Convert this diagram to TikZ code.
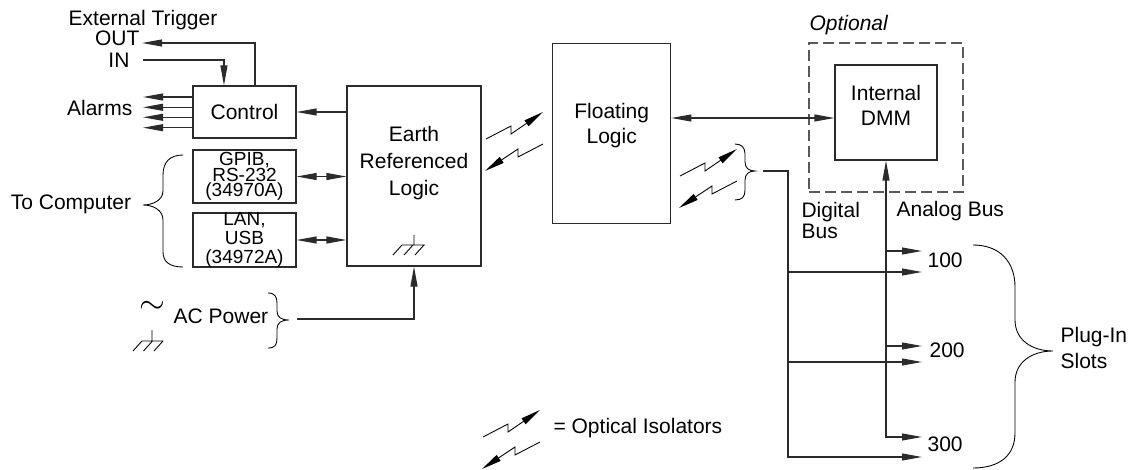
\documentclass[tikz,border=0pt]{standalone}
\usepackage{fontspec}
\setmainfont{Liberation Sans}
\usetikzlibrary{arrows.meta,positioning,calc}
\definecolor{Ink}{HTML}{2B2B2B}
\definecolor{DashGray}{HTML}{5A5A5A}
\setlength{\lineskiplimit}{-20pt}
\begin{document}
\begin{tikzpicture}[x=0.75pt,y=-0.75pt,line width=.85pt,
  >={Triangle[length=15pt,width=5.2pt]},
  box/.style={rectangle,draw=Ink,inner sep=0pt},
  lbl/.style={inner sep=0pt,align=center,font=\fontsize{15.75}{19}\selectfont},
  sml/.style={inner sep=0pt,align=center,font=\fontsize{14.25}{11.5}\selectfont},
  arr/.style={->,draw=Ink},
  dbl/.style={<->,draw=Ink},
  iso/.style={->,line width=.65pt},
  thinln/.style={line width=.65pt}]
  \useasboundingbox (0,0) rectangle (1134,470);
  % left side labels
  \node[lbl] (trig) at (143,20) {External Trigger};
  \node[lbl,anchor=east] (out) at (140,38) {OUT};
  \node[lbl,anchor=east] (in) at (130,60) {IN};
  \node[lbl,anchor=east,inner xsep=7.5pt] (alarms) at (143,108) {Alarms};
  \node[lbl] (tocomp) at (71,204) {To Computer};
  \node[lbl] (acpow) at (221,316) {AC Power};
  \node[inner sep=0pt,font=\fontsize{25}{25}\selectfont] (tilde) at (152,307) {$\sim$};
  % interface boxes
  \node[box,minimum width=77.25pt,minimum height=39pt] (ctrl) at (244.5,112) {};
  \node[lbl] (ctrltxt) at (ctrl) {Control};
  \node[box,minimum width=77.25pt,minimum height=39.75pt] (gpib) at (244.5,176.5) {};
  \node[sml] (gpibtxt) at (gpib) {GPIB,\\RS-232\\(34970A)};
  \node[box,minimum width=77.25pt,minimum height=40.5pt] (lan) at (244.5,240) {};
  \node[sml,font=\fontsize{14.25}{14.4}\selectfont] (lantxt) at (lan) {LAN,\\USB\\(34972A)};
  % logic boxes
  \node[box,minimum width=100.5pt,minimum height=135pt] (earth) at (414,176) {};
  \node[lbl,font=\fontsize{15.75}{20}\selectfont] (earthtxt) at ([yshift=9.75pt]earth.center) {Earth\\Referenced\\Logic};
  \node[box,minimum width=88.5pt,minimum height=135pt] (float) at (611.7,133.3) {};
  \node[lbl] (floattxt) at ([yshift=6pt]float.center) {Floating\\Logic};
  \node[draw=DashGray,dash pattern=on 8pt off 4pt,inner sep=0pt,
    minimum width=115.5pt,minimum height=111.75pt] (opt) at (886,117.5) {};
  \node[box,minimum width=76.5pt,minimum height=71.25pt] (dmm) at (886,112.5) {};
  \node[lbl] (dmmtxt) at ([yshift=5.25pt]dmm.center) {Internal\\DMM};
  \node[lbl,anchor=west,font=\fontsize{15.75}{19}\selectfont\itshape] (opttxt) at (809,25) {Optional};
  % bus labels and slots
  \node[lbl,anchor=west,align=left,font=\fontsize{15.75}{15.75}\selectfont] (digbus) at (801,220) {Digital\\Bus};
  \node[lbl,anchor=west] (anbus) at (896,211) {Analog Bus};
  \node[lbl,anchor=west] (s100) at (927,260) {100};
  \node[lbl,anchor=west] (s200) at (929,350) {200};
  \node[lbl,anchor=west] (s300) at (927,444) {300};
  \node[lbl,anchor=west,align=left,font=\fontsize{15.75}{20}\selectfont] (plugin) at (1060,348) {Plug-In\\Slots};
  \node[lbl,anchor=west] (isotxt) at (553,428) {= Optical Isolators};
  % free ends
  \coordinate (outtip) at (142,43);
  \coordinate (inst) at (143,60);
  \coordinate (acend) at (297,319);
  \coordinate (dstart) at (763,171);
  \coordinate (dcol) at (788,457);
  \coordinate (s100a) at (922,251);
  \coordinate (s100d) at (922,272);
  \coordinate (s200a) at (922,346);
  \coordinate (s200d) at (922,362);
  \coordinate (s300a) at (922,437);
  \coordinate (s300d) at (922,457);
  % connectors
  \draw[arr] ([xshift=7.9pt]ctrl.north) |- (outtip);
  \draw[arr] (inst) -| ([xshift=-15.4pt]ctrl.north);
  \foreach \ya in {97,107.3,117.3,127.7}
    \draw[arr] (ctrl.west |- 0,\ya) -- (alarms.east |- 0,\ya);
  \draw[arr] (earth.west |- ctrl.east) -- (ctrl.east);
  \draw[dbl] (gpib.east) -- (gpib.east -| earth.west);
  \draw[dbl] (lan.east) -- (lan.east -| earth.west);
  \draw[arr] (acend) -| (earth.south);
  \draw[dbl] (float.east |- 0,118) -- (dmm.west |- 0,118);
  \draw[arr] (dstart) -| (dcol) -- (s300d);
  \draw[arr] (dcol |- s100d) -- (s100d);
  \draw[arr] (dcol |- s200d) -- (s200d);
  \draw[dbl] (dmm.south) |- (s300a);
  \draw[arr] (dmm.south |- s100a) -- (s100a);
  \draw[arr] (dmm.south |- s200a) -- (s200a);
  % optical isolators
  \foreach \ix/\iy in {486/139,680/176,483/437} {
    \draw[iso] (\ix,\iy) -- ++(25,-13) -- ++(0,8) -- ++(32,-22);
    \draw[iso] (\ix+57,\iy+5) -- ++(-25,13) -- ++(0,-8) -- ++(-33,22);
  }
  % grounds
  \draw[thinln] (414,235) -- (414,245) (402,245) -- (425,245)
    (402,245) -- ++(-9,10) (413,245) -- ++(-9,10) (424,245) -- ++(-9,10);
  \draw[thinln] (152,330) -- (152,341) (142,341) -- (163,341)
    (142,341) -- ++(-9,10) (152.5,341) -- ++(-9,10) (163,341) -- ++(-9,10);
  % braces
  \draw[thinln] (183,155) .. controls (170,155) and (163,162) .. (163,175) -- (163,191)
    .. controls (163,200) and (153,205) .. (143,205)
    .. controls (153,205) and (163,210) .. (163,220) -- (163,252)
    .. controls (163,262) and (170,267) .. (183,267);
  \draw[thinln] (268,293) .. controls (275,293) and (277,297) .. (277,303) -- (277,311)
    .. controls (277,317) and (281,320) .. (289,320)
    .. controls (281,320) and (277,323) .. (277,329) -- (277,338)
    .. controls (277,345) and (275,348) .. (268,348);
  \draw[thinln] (735,144) .. controls (742,144) and (745,148) .. (745,154) -- (745,162)
    .. controls (745,168) and (749,171) .. (755,171)
    .. controls (749,171) and (745,174) .. (745,180) -- (745,190)
    .. controls (745,197) and (742,200) .. (735,200);
  \draw[thinln] (973,245) .. controls (1000,245) and (1015,262) .. (1015,287) -- (1015,320)
    .. controls (1015,340) and (1032,351) .. (1053,351)
    .. controls (1032,351) and (1015,362) .. (1015,382) -- (1015,433)
    .. controls (1015,455) and (1000,468) .. (973,468);
\end{tikzpicture}
\end{document}
